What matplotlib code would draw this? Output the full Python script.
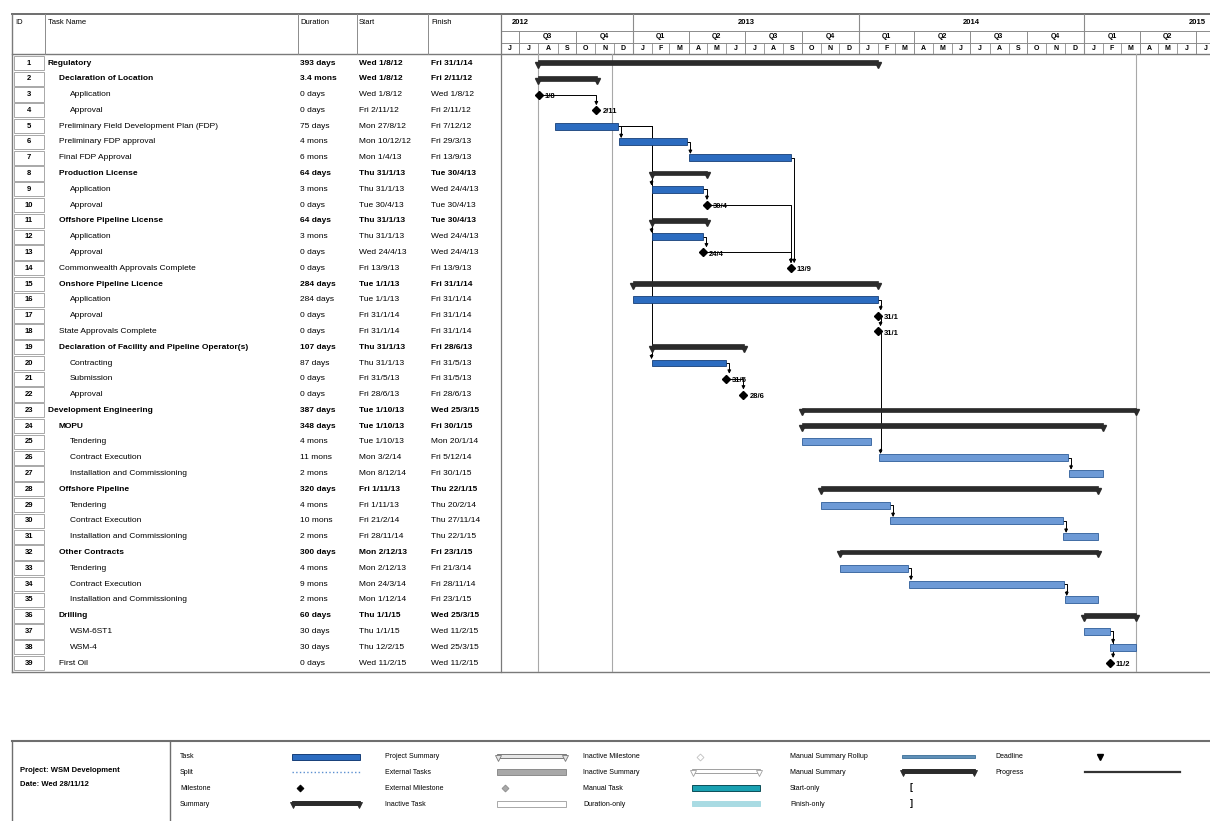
import datetime as dt
import matplotlib
matplotlib.use("Agg")
import matplotlib.pyplot as plt
import matplotlib.dates as mdates
from matplotlib.patches import Rectangle

plt.rcParams['font.family'] = ['Liberation Sans', 'DejaVu Sans']

# ---- schedule table ----
names = ["Regulatory", "Declaration of Location", "Application", "Approval",
         "Preliminary Field Development Plan (FDP)", "Preliminary FDP approval",
         "Final FDP Approval", "Production License", "Application", "Approval",
         "Offshore Pipeline License", "Application", "Approval",
         "Commonwealth Approvals Complete", "Onshore Pipeline Licence",
         "Application", "Approval", "State Approvals Complete",
         "Declaration of Facility and Pipeline Operator(s)", "Contracting",
         "Submission", "Approval", "Development Engineering", "MOPU",
         "Tendering", "Contract Execution", "Installation and Commissioning",
         "Offshore Pipeline", "Tendering", "Contract Execution",
         "Installation and Commissioning", "Other Contracts", "Tendering",
         "Contract Execution", "Installation and Commissioning", "Drilling",
         "WSM-6ST1", "WSM-4", "First Oil"]
levels = [0, 1, 2, 2, 1, 1, 1, 1, 2, 2, 1, 2, 2, 1, 1, 2, 2, 1, 1, 2,
          2, 2, 0, 1, 2, 2, 2, 1, 2, 2, 2, 1, 2, 2, 2, 1, 2, 2, 1]
kinds = ["S", "S", "M", "M", "T", "T", "T", "S", "T", "M", "S", "T", "M",
         "M", "S", "T", "M", "M", "S", "T", "M", "M", "S", "S", "T", "T",
         "T", "S", "T", "T", "T", "S", "T", "T", "T", "S", "T", "T", "M"]
durations = ["393 days", "3.4 mons", "0 days", "0 days", "75 days", "4 mons",
             "6 mons", "64 days", "3 mons", "0 days", "64 days", "3 mons",
             "0 days", "0 days", "284 days", "284 days", "0 days", "0 days",
             "107 days", "87 days", "0 days", "0 days", "387 days", "348 days",
             "4 mons", "11 mons", "2 mons", "320 days", "4 mons", "10 mons",
             "2 mons", "300 days", "4 mons", "9 mons", "2 mons", "60 days",
             "30 days", "30 days", "0 days"]
starts = ["Wed 1/8/12", "Wed 1/8/12", "Wed 1/8/12", "Fri 2/11/12",
          "Mon 27/8/12", "Mon 10/12/12", "Mon 1/4/13", "Thu 31/1/13",
          "Thu 31/1/13", "Tue 30/4/13", "Thu 31/1/13", "Thu 31/1/13",
          "Wed 24/4/13", "Fri 13/9/13", "Tue 1/1/13", "Tue 1/1/13",
          "Fri 31/1/14", "Fri 31/1/14", "Thu 31/1/13", "Thu 31/1/13",
          "Fri 31/5/13", "Fri 28/6/13", "Tue 1/10/13", "Tue 1/10/13",
          "Tue 1/10/13", "Mon 3/2/14", "Mon 8/12/14", "Fri 1/11/13",
          "Fri 1/11/13", "Fri 21/2/14", "Fri 28/11/14", "Mon 2/12/13",
          "Mon 2/12/13", "Mon 24/3/14", "Mon 1/12/14", "Thu 1/1/15",
          "Thu 1/1/15", "Thu 12/2/15", "Wed 11/2/15"]
finishes = ["Fri 31/1/14", "Fri 2/11/12", "Wed 1/8/12", "Fri 2/11/12",
            "Fri 7/12/12", "Fri 29/3/13", "Fri 13/9/13", "Tue 30/4/13",
            "Wed 24/4/13", "Tue 30/4/13", "Tue 30/4/13", "Wed 24/4/13",
            "Wed 24/4/13", "Fri 13/9/13", "Fri 31/1/14", "Fri 31/1/14",
            "Fri 31/1/14", "Fri 31/1/14", "Fri 28/6/13", "Fri 31/5/13",
            "Fri 31/5/13", "Fri 28/6/13", "Wed 25/3/15", "Fri 30/1/15",
            "Mon 20/1/14", "Fri 5/12/14", "Fri 30/1/15", "Thu 22/1/15",
            "Thu 20/2/14", "Thu 27/11/14", "Thu 22/1/15", "Fri 23/1/15",
            "Fri 21/3/14", "Fri 28/11/14", "Fri 23/1/15", "Wed 25/3/15",
            "Wed 11/2/15", "Wed 25/3/15", "Wed 11/2/15"]
links = [(3, 4), (5, 6), (6, 7), (5, 9), (5, 12), (5, 20), (9, 10), (12, 13),
         (10, 14), (13, 14), (7, 14), (16, 17), (17, 18), (18, 26), (20, 21),
         (21, 22), (26, 27), (29, 30), (30, 31), (33, 34), (34, 35), (37, 38),
         (37, 39)]
project_name = "WSM Development"
status_date = "Wed 28/11/12"

legend_cols = [["Task", "Split", "Milestone", "Summary"],
               ["Project Summary", "External Tasks", "External Milestone", "Inactive Task"],
               ["Inactive Milestone", "Inactive Summary", "Manual Task", "Duration-only"],
               ["Manual Summary Rollup", "Manual Summary", "Start-only", "Finish-only"],
               ["Deadline", "Progress"]]


def parse(s):
    d, m, y = s.split()[1].split("/")
    return dt.datetime(2000 + int(y), int(m), int(d))


W, H = 1210, 821


def rect(x0, y0, x1, y1):
    return [x0 / W, 1 - y1 / H, (x1 - x0) / W, (y1 - y0) / H]


fig = plt.figure(figsize=(W / 100, H / 100), dpi=100)
fig.patch.set_facecolor("white")

# pixel overlay for frame, header and legend
ov = fig.add_axes([0, 0, 1, 1])
ov.set_xlim(0, W)
ov.set_ylim(H, 0)
ov.axis("off")

ROW_TOP, ROW_BOT = 54, 672
Y0, Y1 = 0.43, 39.57
PPD = 0.618                      # pixels per day
jan13 = mdates.date2num(dt.datetime(2013, 1, 1))
xlo, xhi = jan13 - 131 / PPD, jan13 + 577 / PPD
day_px = 1 / PPD                 # one pixel in days

gray = "#8c8c8c"
# frame lines
ov.plot([12, W], [14, 14], color="#6e6e6e", lw=1.4)
ov.plot([12, W], [54, 54], color="#7a7a7a", lw=1.0)
ov.plot([12, W], [672, 672], color="#7a7a7a", lw=1.0)
ov.plot([12, 12], [14, 672], color="#7a7a7a", lw=1.0)
for x in [45, 298, 357, 428]:
    ov.plot([x, x], [14, 54], color=gray, lw=0.7)
ov.plot([501, 501], [14, 672], color="#7a7a7a", lw=0.9)
for x, lab in zip([15, 48, 300, 359, 431], ["ID", "Task Name", "Duration", "Start", "Finish"]):
    ov.text(x, 22, lab, fontsize=5.5, va="center", ha="left")

# ---- table body ----
tb = fig.add_axes(rect(0, ROW_TOP, 501, ROW_BOT))
tb.set_xlim(0, 501)
tb.set_ylim(Y1, Y0)
tb.axis("off")
for i in range(len(names)):
    r = i + 1
    bold = "bold" if kinds[i] == "S" else "normal"
    tb.add_patch(Rectangle((14, r - 0.45), 30, 0.9, fc="white", ec="#9a9a9a", lw=0.6))
    tb.text(29, r, str(r), fontsize=5.5, ha="center", va="center", fontweight="bold")
    tb.text(48 + 11 * levels[i], r, names[i], fontsize=6, va="center", fontweight=bold)
    tb.text(300, r, durations[i], fontsize=6, va="center", fontweight=bold)
    tb.text(359, r, starts[i], fontsize=6, va="center", fontweight=bold)
    tb.text(431, r, finishes[i], fontsize=6, va="center", fontweight=bold)

# ---- timescale ----
ts = fig.add_axes(rect(502, 14, W, 54))
ts.set_xlim(xlo, xhi)
ts.set_ylim(54, 14)
ts.axis("off")
ts.plot([xlo, xhi], [31, 31], color=gray, lw=0.7)
ts.plot([xlo, xhi], [43, 43], color=gray, lw=0.7)
letters = "JFMAMJJASOND"


def scale_label(x, y, s, half_w):
    # keep only labels that fit inside the visible timescale
    x = min(max(x, xlo + half_w * day_px), xhi - half_w * day_px) if half_w > 8 else x
    if xlo + half_w * day_px <= x <= xhi - half_w * day_px:
        ts.text(x, y, s, fontsize=5 if half_w < 10 else 5.5, ha="center",
                va="center", fontweight="bold")


for year in range(2012, 2016):
    y0n = mdates.date2num(dt.datetime(year, 1, 1))
    y1n = mdates.date2num(dt.datetime(year + 1, 1, 1))
    ts.plot([y0n, y0n], [14, 54], color=gray, lw=0.8)
    scale_label((y0n + y1n) / 2, 22.5, str(year), 10)
    for m in range(1, 13):
        a = mdates.date2num(dt.datetime(year, m, 1))
        b = mdates.date2num(dt.datetime(year + (m == 12), m % 12 + 1, 1))
        if m in (4, 7, 10):
            ts.plot([a, a], [31, 54], color=gray, lw=0.7)
        elif m != 1:
            ts.plot([a, a], [43, 54], color=gray, lw=0.6)
        scale_label((a + b) / 2, 48.5, letters[m - 1], 4)
        if m in (1, 4, 7, 10):
            qe = mdates.date2num(dt.datetime(year + (m == 10), (m + 2) % 12 + 1, 1))
            scale_label((a + qe) / 2, 37, "Q%d" % ((m - 1) // 3 + 1), 6)

# ---- gantt ----
ax = fig.add_axes(rect(502, ROW_TOP, W, ROW_BOT))
ax.set_xlim(xlo, xhi)
ax.set_ylim(Y1, Y0)
ax.axis("off")

s_num = [mdates.date2num(parse(s)) for s in starts]
f_num = [mdates.date2num(parse(f)) + 1 for f in finishes]

for d in [min(s_num), mdates.date2num(parse(status_date)) + 0.7, max(f_num)]:
    ax.plot([d, d], [Y0, Y1], color="#a8a8a8", lw=0.8, zorder=1)


def m_x(i):
    return mdates.date2num(parse(starts[i])) + 0.7


late = mdates.date2num(dt.datetime(2013, 9, 1))
for i in range(len(names)):
    r = i + 1
    if kinds[i] == "S":
        ax.add_patch(Rectangle((s_num[i], r - 0.18), f_num[i] - s_num[i], 0.3,
                               fc="#2b2b2b", ec="#2b2b2b", lw=0.5, zorder=3))
        ax.plot([s_num[i], f_num[i]], [r + 0.12, r + 0.12], ls="none", marker="v",
                ms=4.2, color="#2b2b2b", zorder=3)
    elif kinds[i] == "T":
        fc, ec = ("#6d9ad6", "#2f5d99") if s_num[i] > late else ("#2c6cc0", "#173f78")
        ax.add_patch(Rectangle((s_num[i], r - 0.22), f_num[i] - s_num[i], 0.44,
                               fc=fc, ec=ec, lw=0.6, zorder=3))
    else:
        x = m_x(i)
        ax.plot(x, r, marker="D", ms=4, color="black", zorder=4)
        d = parse(starts[i])
        ax.text(x + 6 * day_px, r + 0.1, "%d/%d" % (d.day, d.month), fontsize=5.5,
                fontweight="bold", va="center", ha="left", zorder=4)

# dependency links
for p, s in links:
    pi, si = p - 1, s - 1
    px = m_x(pi) if kinds[pi] == "M" else f_num[pi]
    sx = m_x(si) if kinds[si] == "M" else s_num[si]
    tx = max(sx, px + 3 * day_px)
    stop = s - (0.32 if kinds[si] == "M" else 0.24)
    ax.plot([px, tx, tx], [p, p, stop - 0.2], color="black", lw=0.7, zorder=2)
    ax.annotate("", xy=(tx, stop), xytext=(tx, stop - 0.3),
                arrowprops=dict(arrowstyle="-|>", color="black", lw=0.7,
                                mutation_scale=5, shrinkA=0, shrinkB=0), zorder=2)

# ---- legend box ----
ov.plot([12, W], [741, 741], color="#6e6e6e", lw=1.5)
ov.plot([12, 12], [741, H], color="#6e6e6e", lw=1.0)
ov.plot([170, 170], [741, H], color="#6e6e6e", lw=1.0)
ov.text(20, 771, "Project: " + project_name, fontsize=5.5, va="center", fontweight="bold")
ov.text(20, 784, "Date: " + status_date, fontsize=5.5, va="center", fontweight="bold")

rows_y = [757, 772, 788, 804]
label_x = [180, 385, 583, 790, 995]
sample_x = [(292, 360), (497, 566), (692, 760), (902, 975), (1085, 1180)]


def lg_bar(x0, x1, y, fc, ec, h=6):
    ov.add_patch(Rectangle((x0, y - h / 2), x1 - x0, h, fc=fc, ec=ec, lw=0.7))


def lg_summary(x0, x1, y, fc, ec):
    ov.add_patch(Rectangle((x0, y - 2.5), x1 - x0, 4, fc=fc, ec=ec, lw=0.7))
    ov.plot([x0 + 1, x1 - 1], [y + 1, y + 1], ls="none", marker="v", ms=4,
            mfc=fc, mec=ec, mew=0.6)


def lg_diamond(x, y, fc, ec):
    ov.plot(x, y, marker="D", ms=3.5, mfc=fc, mec=ec, mew=0.6)


for c, col in enumerate(legend_cols):
    for k, lab in enumerate(col):
        y = rows_y[k]
        ov.text(label_x[c], y, lab, fontsize=5, va="center", ha="left")
        x0, x1 = sample_x[c]
        if lab == "Task":
            lg_bar(x0, x1, y, "#2c6cc0", "#173f78")
        elif lab == "Split":
            ov.plot([x0, x1], [y, y], color="#5b8fd0", lw=1.0, ls=":")
        elif lab == "Milestone":
            lg_diamond(x0 + 8, y, "black", "black")
        elif lab in ("Summary", "Manual Summary"):
            lg_summary(x0, x1, y, "#2b2b2b", "#2b2b2b")
        elif lab == "Project Summary":
            lg_summary(x0, x1, y, "#e6e6e6", "#7a7a7a")
        elif lab == "External Tasks":
            lg_bar(x0, x1, y, "#a8a8a8", "#8c8c8c")
        elif lab == "External Milestone":
            lg_diamond(x0 + 8, y, "#a8a8a8", "#8c8c8c")
        elif lab == "Inactive Task":
            lg_bar(x0, x1, y, "white", "#a8a8a8")
        elif lab == "Inactive Milestone":
            lg_diamond(x0 + 8, y, "white", "#c0c0c0")
        elif lab == "Inactive Summary":
            lg_summary(x0, x1, y, "white", "#a0a0a0")
        elif lab == "Manual Task":
            lg_bar(x0, x1, y, "#1aa1b2", "#0d4f59")
        elif lab == "Duration-only":
            lg_bar(x0, x1, y, "#a9dbe3", "#a9dbe3", h=5)
        elif lab == "Manual Summary Rollup":
            lg_bar(x0, x1, y, "#5f90b8", "#4a7aa0", h=3)
        elif lab == "Start-only":
            ov.text(x0 + 8, y, "[", fontsize=6.5, fontweight="bold", va="center")
        elif lab == "Finish-only":
            ov.text(x0 + 8, y, "]", fontsize=6.5, fontweight="bold", va="center")
        elif lab == "Deadline":
            ov.plot(x0 + 15, y, marker="v", ms=4, color="black")
        elif lab == "Progress":
            ov.plot([x0, x1], [y, y], color="#333333", lw=1.6)

fig.savefig("out.png", dpi=100)
